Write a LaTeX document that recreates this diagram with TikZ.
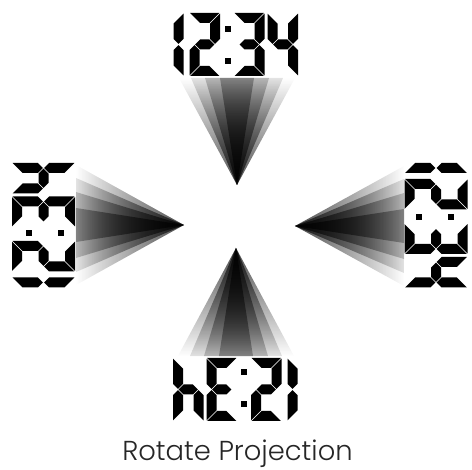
\documentclass[tikz,border=0pt]{standalone}
\usepackage{fontspec}
\newfontfamily\labelfont{Poppins}[UprightFont={* Light}]
\usetikzlibrary{fadings}

\tikzfading[name=beamA, bottom color=transparent!0, top color=transparent!100]
\tikzfading[name=beamB, bottom color=transparent!0, top color=transparent!85]
\tikzfading[name=beamC, bottom color=transparent!0, top color=transparent!72]
\tikzfading[name=beamD, bottom color=transparent!0, top color=transparent!60]

\def\W{30.5}\def\H{63}\def\T{10}\def\G{0.7}\def\HM{31.5}
\newcommand\sega{\fill[segfill] (\G,0) -- ({\W-\G},0) -- ({\W-\T-\G},\T) -- ({\T+\G},\T) -- cycle;}
\newcommand\segd{\fill[segfill] (\G,\H) -- ({\W-\G},\H) -- ({\W-\T-\G},{\H-\T}) -- ({\T+\G},{\H-\T}) -- cycle;}
\newcommand\segb{\fill[segfill] (\W,\G) -- (\W,{\HM-\T/2-\G}) -- ({\W-\T/2},{\HM-\G}) -- ({\W-\T},{\HM-\T/2-\G}) -- ({\W-\T},{\T+\G}) -- cycle;}
\newcommand\segc{\fill[segfill] (\W,{\H-\G}) -- (\W,{\HM+\T/2+\G}) -- ({\W-\T/2},{\HM+\G}) -- ({\W-\T},{\HM+\T/2+\G}) -- ({\W-\T},{\H-\T-\G}) -- cycle;}
\newcommand\sege{\fill[segfill] (0,{\H-\G}) -- (0,{\HM+\T/2+\G}) -- ({\T/2},{\HM+\G}) -- (\T,{\HM+\T/2+\G}) -- (\T,{\H-\T-\G}) -- cycle;}
\newcommand\segf{\fill[segfill] (0,\G) -- (0,{\HM-\T/2-\G}) -- ({\T/2},{\HM-\G}) -- (\T,{\HM-\T/2-\G}) -- (\T,{\T+\G}) -- cycle;}
\newcommand\segg{\fill[segfill] ({\T/2+\G},\HM) -- ({\T+\G},{\HM-\T/2}) -- ({\W-\T-\G},{\HM-\T/2}) -- ({\W-\T/2-\G},\HM) -- ({\W-\T-\G},{\HM+\T/2}) -- ({\T+\G},{\HM+\T/2}) -- cycle;}
\newcommand\lcddigit[2]{\begin{scope}[shift={(#1,-31.5)}]\foreach \s in {#2}{\csname seg\s\endcsname}\end{scope}}
\newcommand\lcddisplay[3]{%
  \begin{scope}[shift={(#1,#2)}, rotate=#3]
    \lcddigit{-82.5}{b,c}
    \lcddigit{-46}{a,b,g,e,d}
    \lcddigit{-1.5}{a,b,g,c,d}
    \lcddigit{32}{f,g,b,c}
    \fill[segfill] (-11,-18) rectangle (-5,-12);
    \fill[segfill] (-11,14) rectangle (-5,20);
  \end{scope}}
% vertical beam: apex x, apex y, base y, fading angle
\newcommand\vbeam[4]{%
  \fill[beamfill, path fading=beamA, fading angle=#4] (#1,#2) -- ({#1-58},#3) -- ({#1+58},#3) -- cycle;
  \fill[beamfill, path fading=beamB, fading angle=#4] (#1,#2) -- ({#1-46},#3) -- ({#1+46},#3) -- cycle;
  \fill[beamfill, path fading=beamC, fading angle=#4] (#1,#2) -- ({#1-32},#3) -- ({#1+32},#3) -- cycle;
  \fill[beamfill, path fading=beamD, fading angle=#4] (#1,#2) -- ({#1-17},#3) -- ({#1+17},#3) -- cycle;}
\newcommand\hbeam[4]{%
  \fill[beamfill, path fading=beamA, fading angle=#4] (#1,#2) -- (#3,{#2-60}) -- (#3,{#2+60}) -- cycle;
  \fill[beamfill, path fading=beamB, fading angle=#4] (#1,#2) -- (#3,{#2-47}) -- (#3,{#2+47}) -- cycle;
  \fill[beamfill, path fading=beamC, fading angle=#4] (#1,#2) -- (#3,{#2-33}) -- (#3,{#2+33}) -- cycle;
  \fill[beamfill, path fading=beamD, fading angle=#4] (#1,#2) -- (#3,{#2-17}) -- (#3,{#2+17}) -- cycle;}

\begin{document}
\begin{tikzpicture}[x=1pt, y=-1pt,
  segfill/.style={fill=black},
  beamfill/.style={fill=black, fill opacity=0.7},
  titletext/.style={font=\labelfont\fontsize{27.4}{32}\selectfont, text=black!85, inner sep=0pt, anchor=base}]
  \useasboundingbox (0,0) rectangle (472,470);
  \coordinate (apexT) at (237,185);
  \coordinate (apexL) at (184,225);
  \coordinate (apexR) at (295,226);
  \coordinate (apexB) at (236,248);
  % beams
  \vbeam{237}{185}{78}{0}
  \vbeam{236}{248}{356}{180}
  \hbeam{184}{225}{76}{90}
  \hbeam{295}{226}{404}{-90}
  % displays
  \lcddisplay{235.5}{44.5}{0}
  \lcddisplay{43.5}{225.5}{90}
  \lcddisplay{436}{225}{-90}
  \lcddisplay{235.5}{389.5}{180}
  \node[titletext] (title) at (237.5,461) {Rotate Projection};
\end{tikzpicture}
\end{document}
